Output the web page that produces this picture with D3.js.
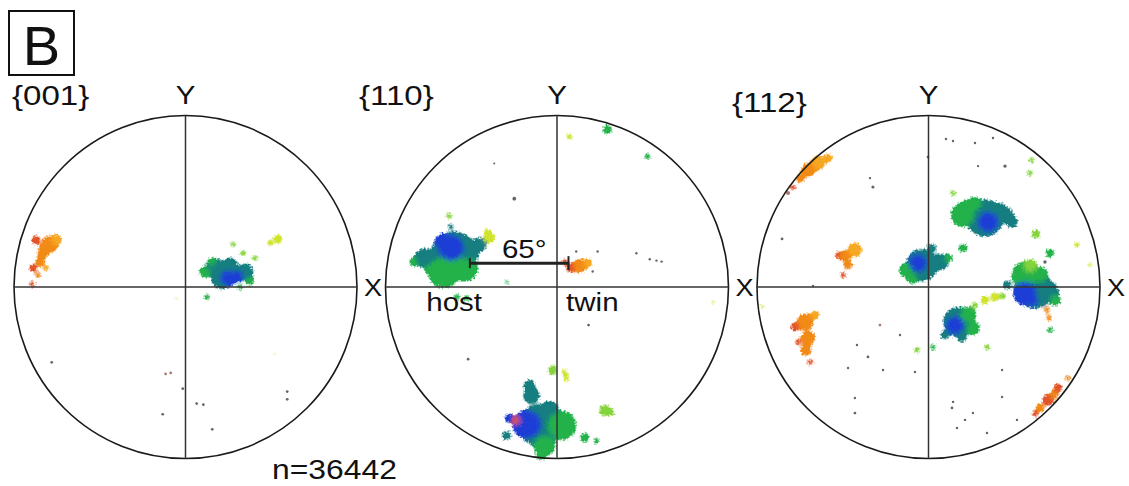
<!DOCTYPE html>
<html>
<head>
<meta charset="utf-8">
<script src="https://cdn.jsdelivr.net/npm/d3@7"></script>
<style>
  body { margin: 0; background: #fff; }
  svg text { font-family: "Liberation Sans", Arial, sans-serif; fill: #111; }
</style>
</head>
<body>
<div id="chart"></div>
<script>
// pole figures: poles as [x, y, spread, colourKey], x/y in % of projection radius
const figureLabels = ["{001}", "{110}", "{112}"]
const sampleSize = "n=36442"

const poles001 = [
  [-79, 25, 3.5, "or"], [-75.5, 27.4, 2.3, "am"], [-82.5, 21.6, 2.3, "or"], [-87.2, 27.4, 1.7, "rd"],
  [-83.7, 18.1, 1.7, "or"], [-84.8, 14.6, 1.7, "or"], [-88.9, 11.1, 1.5, "rd"], [-86, 7, 1.2, "or"],
  [-89.5, 1.7, 1.2, "rd"], [-81.3, 11.1, 1.2, "am"],
  [17.2, 11.1, 4.1, "tl"], [25.9, 12.2, 3.5, "tl"], [34.7, 8.7, 3.5, "tl"], [11.4, 8.7, 2.3, "gn"],
  [15.5, 14.6, 1.7, "gn"], [21.3, 5.2, 4.7, "tl"], [24.8, 5.2, 3.5, "bl"], [30.6, 6.4, 2.3, "bl"],
  [37.6, 3.5, 1.7, "gn"], [31.8, 0, 1.2, "gn"],
  [53.9, 28, 1.7, "yg"], [49.3, 25.7, 1.2, "yg"], [27.7, 25.1, 1.2, "lg"], [33.5, 19.8, 1.2, "lg"],
  [40.5, 16.9, 1.2, "lg"], [12.5, -5.8, 1.2, "gn"], [52.2, -38.7, 0.8, "yg"], [-5.1, -6.6, 0.8, "yg"],
  [-78, -43.9, 0.8, "gy"], [-11.6, -50.7, 0.8, "br"], [-8.6, -50.1, 0.8, "br"], [-1.6, -59.3, 0.8, "gy"],
  [-13.3, -74.2, 0.8, "gy"], [6.5, -68, 0.8, "gy"], [10.4, -68.6, 0.8, "gy"], [15.6, -83, 0.8, "gy"],
  [59.3, -65.5, 0.8, "gy"], [59.3, -61, 0.8, "gy"]
]

const poles110 = [
  [-60, 18.7, 10.5, "tl"], [-65.8, 8.8, 7, "gn"], [-54.1, 11.1, 5.9, "gn"], [-68.7, 4.1, 2.9, "gn"],
  [-73.4, 11.1, 2.9, "gn"], [-77.5, 17, 4.1, "tl"], [-83.4, 14.6, 1.8, "gn"], [-51.2, 21.6, 4.7, "tl"],
  [-45.3, 24.6, 2.9, "tl"], [-61.7, 22.8, 5.9, "bl"], [-65.8, 25.7, 4.1, "bl"],
  [-39.5, 28.7, 2.3, "yg"], [-40.7, 32.2, 1.2, "yg"], [-62.9, 41.5, 1.2, "lg"], [-61.9, 35.3, 1.2, "tl"],
  [-58.5, -5.8, 1.2, "gn"], [-52.6, -6.4, 1.2, "gn"], [-29.2, 2.9, 1, "gn"],
  [13.2, 12.3, 2.9, "or"], [7.9, 11.1, 1.8, "rd"], [17.8, 14, 1.8, "am"], [4.4, 14.6, 1.2, "rd"],
  [-10.2, -80.7, 9.4, "tl"], [-4.4, -72, 4.1, "tl"], [2.6, -80.7, 6.4, "gn"], [-7.3, -92.4, 4.7, "gn"],
  [-14.9, -63.2, 3.5, "tl"], [-16.1, -57.3, 2.3, "tl"], [-17.3, -80.1, 6.4, "bl"], [-27.8, -76.6, 1.8, "bl"],
  [-29.5, -86.6, 1.8, "tl"], [-23.7, -77.8, 1.8, "rd"], [-9.7, -98.3, 1.8, "gn"],
  [-2.6, -48.6, 1.8, "lg"], [5.6, -53.2, 1.2, "yg"], [4.4, -49.7, 1.2, "yg"], [27.8, -72, 2.3, "lg"],
  [31.9, -73.1, 1.2, "lg"], [16.1, -87.8, 1.8, "gn"], [23.1, -89.5, 1.2, "gn"],
  [29.5, 91.8, 1.8, "gn"], [7.3, 87.8, 1.2, "yg"], [52.9, 76.1, 1.2, "gn"], [91, -8.8, 0.9, "yg"],
  [-24.9, 51.5, 1.1, "gy"], [-36.6, 72, 0.6, "gy"], [23.7, 20.7, 0.7, "gy"], [46.3, 19.7, 0.7, "gy"],
  [54.1, 16.2, 0.7, "gy"], [58, 15.4, 0.7, "gy"], [61, 14.8, 0.7, "gy"], [11.2, 20.7, 0.7, "gy"],
  [20.8, 9, 0.7, "gy"], [-51.8, -42.1, 0.8, "gy"], [18.4, -22.2, 0.8, "gy"]
]

const poles112 = [
  [-70.3, 68.2, 2.9, "or"], [-67.3, 70, 2.3, "or"], [-64.4, 72.3, 2.9, "am"], [-58.6, 75.2, 1.7, "am"],
  [-74.9, 63.5, 1.7, "or"], [-79, 58.3, 1.2, "rd"], [-81.9, 54.8, 1.2, "br"],
  [-42.9, 21.6, 2.9, "am"], [-48.7, 18.1, 2.3, "or"], [-52.8, 18.7, 1.2, "rd"], [-46.9, 12.8, 1.7, "or"],
  [-49.8, 7, 1.2, "rd"],
  [-72, -20.4, 3.5, "or"], [-66.2, -16.3, 1.7, "am"], [-77.8, -23.3, 1.7, "rd"], [-70.3, -29.7, 2.9, "or"],
  [-71.4, -36.7, 2.3, "or"], [-69.1, -43.7, 1.2, "rd"], [-76.1, -32.1, 1.2, "rd"],
  [69.7, -65.9, 2.3, "rd"], [65, -70.5, 1.7, "or"], [75.5, -58.9, 1.7, "rd"], [81.3, -53.1, 1.2, "or"],
  [73.2, -63, 1.7, "or"], [62.1, -74, 1.2, "rd"],
  [32.9, 40.2, 8.2, "tl"], [20.1, 42, 5.2, "gn"], [23, 46.1, 3.5, "gn"], [27.1, 48.4, 2.9, "gn"],
  [44.6, 42, 3.5, "tl"], [48.7, 37.9, 2.3, "tl"], [41.7, 46.6, 1.7, "tl"], [34.7, 37.9, 4.7, "bl"],
  [-3.8, 12.8, 7, "tl"], [6.7, 14.6, 3.5, "tl"], [-13.1, 9.9, 2.9, "gn"], [-9.6, 5.2, 2.3, "gn"],
  [2, 22.7, 1.7, "tl"], [11.4, 16.9, 1.7, "gn"], [-6.1, 14, 4.1, "bl"],
  [62.1, -1.7, 8.2, "tl"], [56.3, 7, 5.8, "gn"], [65, 7, 3.5, "gn"], [59.2, 12.2, 2.9, "lg"],
  [69.7, -2.9, 4.7, "tl"], [73.8, -7.6, 2.3, "gn"], [45.8, 1.2, 1.7, "tl"], [56.3, -3.5, 5.2, "bl"],
  [60.3, -7.6, 2.9, "bl"], [69.1, -13.4, 1.2, "or"], [70.3, -18.1, 1.2, "or"],
  [17.2, -20.4, 6.4, "tl"], [23, -16.3, 3.5, "gn"], [25.9, -23.9, 2.9, "gn"], [9.6, -28, 1.7, "tl"],
  [19.5, -29.7, 1.7, "tl"], [15.5, -22.2, 4.1, "bl"],
  [32.9, -7.6, 1.7, "yg"], [38.8, -5.8, 1.7, "yg"], [43.4, -5.2, 1.2, "lg"], [27.1, -10.5, 1.2, "lg"],
  [62.7, 30.9, 1.7, "lg"], [70.8, 19.8, 1.7, "gn"], [86.6, 24.5, 1.2, "yg"], [70.8, -25.1, 1.2, "gn"],
  [20.1, 22.7, 1.7, "gn"], [34.1, -35, 1.2, "lg"], [-6.7, -36.7, 1.2, "lg"], [2.6, -35, 1.2, "gn"],
  [60.2, 74, 1.2, "lg"], [59.2, 66.5, 1.2, "lg"], [14.3, 54.8, 1.2, "lg"], [94.2, 12.8, 1, "yg"],
  [-97.2, -11.5, 1, "yg"],
  [10.2, 86.3, 0.7, "gy"], [14.3, 85.1, 0.7, "gy"], [27.1, 84, 0.7, "gy"], [37.6, 86.9, 0.7, "gy"],
  [44.6, 70.5, 1, "gy"], [28.9, 70.5, 0.7, "gy"], [-0.3, 75.8, 0.8, "gy"], [-34.1, 63.5, 0.7, "gy"],
  [-32.4, 58.3, 0.9, "gy"], [-85.4, 28, 0.8, "gy"], [-28.3, -22.2, 0.8, "br"], [-16.6, -28, 0.7, "gy"],
  [-41.7, -33.8, 0.7, "gy"], [-35.3, -40.8, 0.8, "gy"], [-46.9, -47.2, 0.7, "gy"], [-26.5, -48.4, 0.7, "gy"],
  [-7.9, -49.6, 0.7, "gy"], [-42.9, -64.7, 0.7, "gy"], [-42.9, -73.5, 0.8, "gy"], [14.3, -67, 0.7, "gy"],
  [13.7, -70.5, 0.8, "gy"], [42.9, -64.1, 0.7, "gy"], [42.9, -48.4, 0.7, "gy"], [25.9, -73.5, 0.7, "gy"],
  [21.3, -77.5, 0.7, "gy"], [16.6, -82.2, 0.7, "gy"], [34.1, -85.1, 0.7, "gy"], [51.6, -77.5, 0.7, "gy"],
  [67.9, 14.6, 1, "gy"], [-67.3, 0.6, 0.7, "gy"]
]

const allPoles = [poles001, poles110, poles112]

// host -> twin misorientation on {110}
const twinArc = { from: [-50.8, 13.9], to: [6.7, 13.9], label: "65°" }

const colourKeys = ["or", "rd", "am", "bl", "tl", "gn", "lg", "yg", "gy", "br"]
const colourVals = ["#f28a12", "#e2522a", "#f6a820", "#1a3ed6", "#187e80", "#22b24a", "#84d43a", "#cfe42a", "#4a4a4a", "#9a6258"]

const W = 1129, H = 486
const R = 171.5, CY = 287, CX0 = 185.5, STEP = 371.5
const STRETCH = 1.18

const colour = d3.scaleOrdinal().domain(colourKeys).range(colourVals)
const isSingle = d => d[3] === "gy" || d[3] === "br"

const svg = d3.select("#chart").append("svg")
  .attr("width", W).attr("height", H)

const defs = svg.append("defs")
const f = defs.append("filter").attr("id", "rough")
  .attr("x", "-20%").attr("y", "-20%").attr("width", "140%").attr("height", "140%")
f.append("feGaussianBlur").attr("in", "SourceGraphic").attr("stdDeviation", 2).attr("result", "b")
f.append("feComponentTransfer").attr("in", "b").attr("result", "s")
  .append("feFuncA").attr("type", "linear").attr("slope", 3).attr("intercept", -0.45)
f.append("feTurbulence").attr("type", "fractalNoise").attr("baseFrequency", 0.5)
  .attr("numOctaves", 2).attr("seed", 4).attr("result", "n")
f.append("feDisplacementMap").attr("in", "s").attr("in2", "n").attr("scale", 6)
  .attr("xChannelSelector", "R").attr("yChannelSelector", "G")

const stretched = (sel, x, y, txt, size, anchor) =>
  sel.append("text")
    .attr("transform", `translate(${x},${y}) scale(${STRETCH},1)`)
    .attr("text-anchor", anchor || "start")
    .style("font-size", size + "px")
    .text(txt)

// panel letter
svg.append("rect").attr("x", 9).attr("y", 11).attr("width", 65).attr("height", 64)
  .attr("fill", "none").attr("stroke", "#111").attr("stroke-width", 2)
svg.append("text").attr("x", 41.5).attr("y", 65).attr("text-anchor", "middle")
  .style("font-size", "56px").text("B")

const labelX = [12, 359, 732]
const labelY = [105, 105, 112]

allPoles.forEach((poles, i) => {
  const cx = CX0 + i * STEP
  const x = d3.scaleLinear().domain([-100, 100]).range([cx - R, cx + R])
  const y = d3.scaleLinear().domain([-100, 100]).range([CY + R, CY - R])
  const rs = d3.scaleLinear().domain([0, 100]).range([0, R])

  const g = svg.append("g").attr("class", "pole-figure")

  // clustered poles
  g.append("g").attr("filter", "url(#rough)")
    .selectAll("circle").data(poles.filter(d => !isSingle(d))).enter().append("circle")
    .attr("cx", d => x(d[0])).attr("cy", d => y(d[1]))
    .attr("r", d => rs(d[2]) * 1.25)
    .attr("fill", d => colour(d[3]))

  // isolated single poles
  g.append("g").selectAll("circle")
    .data(poles.filter(isSingle))
    .enter().append("circle")
    .attr("cx", d => x(d[0])).attr("cy", d => y(d[1]))
    .attr("r", d => rs(d[2]))
    .attr("fill", d => colour(d[3]))
    .attr("opacity", 0.85)

  // reference frame
  g.append("circle").attr("cx", cx).attr("cy", CY).attr("r", R)
    .attr("fill", "none").attr("stroke", "#1a1a1a").attr("stroke-width", 1.6)
  g.append("line").attr("x1", x(-100)).attr("x2", x(100)).attr("y1", y(0)).attr("y2", y(0))
    .attr("stroke", "#333").attr("stroke-width", 1.5)
  g.append("line").attr("x1", x(0)).attr("x2", x(0)).attr("y1", y(100)).attr("y2", y(-100))
    .attr("stroke", "#333").attr("stroke-width", 1.5)

  stretched(g, cx, 104, "Y", 25, "middle")
  stretched(g, x(100) + 7, CY + 9, "X", 23)
  stretched(g, labelX[i], labelY[i], figureLabels[i], 28)

  if (i === 1) {
    const x1 = x(twinArc.from[0]), x2 = x(twinArc.to[0]), yy = y(twinArc.from[1])
    const a = g.append("g").attr("stroke", "#222")
    a.append("line").attr("x1", x1).attr("x2", x2).attr("y1", yy).attr("y2", yy).attr("stroke-width", 3)
    a.append("line").attr("x1", x1).attr("x2", x1).attr("y1", yy - 5).attr("y2", yy + 5).attr("stroke-width", 2)
    a.append("line").attr("x1", x2).attr("x2", x2).attr("y1", yy - 7).attr("y2", yy + 7).attr("stroke-width", 2)
    stretched(g, (x1 + x2) / 2 + 5, yy - 5, twinArc.label, 25, "middle")
    stretched(g, x(-60), 311, "host", 25, "middle")
    stretched(g, x(20.6), 311, "twin", 25, "middle")
  }
})

stretched(svg, 272, 479, sampleSize, 27)
</script>
</body>
</html>
